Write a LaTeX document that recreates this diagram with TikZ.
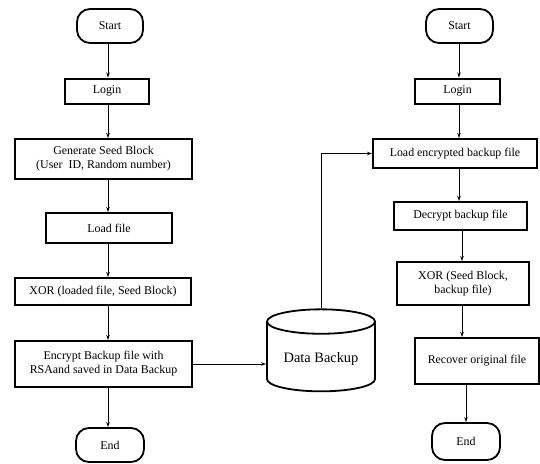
\documentclass[tikz,border=0pt]{standalone}
\usepackage{fontspec}
\setmainfont{Liberation Serif}
\newfontfamily\tms{Liberation Serif}
\usetikzlibrary{arrows.meta,shapes.geometric}
\begin{document}
\begin{tikzpicture}[x=1pt,y=-1pt,
  box/.style={draw,line width=2pt,inner sep=1pt,align=center,font=\tms\fontsize{11.9}{14}\selectfont},
  term/.style={box,rounded corners=13pt,line width=1.8pt},
  arr/.style={line width=0.8pt,-{Stealth[length=5pt,width=3.5pt]}},
  ln/.style={line width=0.8pt}]
\useasboundingbox (0,0) rectangle (540,463);
% left column
\node[term,minimum width=66pt,minimum height=34pt] (s1) at (110,26) {Start};
\node[box,minimum width=84pt,minimum height=25pt] (l1) at (107,91) {Login};
\node[box,minimum width=177pt,minimum height=40pt] (g1) at (103.5,159) {Generate Seed Block\\(User\ \ ID, Random number)};
\node[box,minimum width=126pt,minimum height=30pt] (f1) at (109,228) {Load file};
\node[box,minimum width=176pt,minimum height=27pt] (x1) at (103,291.5) {XOR (loaded file, Seed Block)};
\node[box,minimum width=177pt,minimum height=46pt] (e1) at (103.5,364) {Encrypt Backup file with\\RSAand saved in Data Backup};
\node[term,minimum width=68pt,minimum height=34pt] (n1) at (110,445) {End};
\coordinate (ax) at (108,0);
\draw[arr] (s1.south -| ax) -- (l1.north -| ax);
\draw[arr] (l1.south -| ax) -- (g1.north -| ax);
\draw[arr] (g1.south -| ax) -- (f1.north -| ax);
\draw[arr] (f1.south -| ax) -- (x1.north -| ax);
\draw[arr] (x1.south -| ax) -- (e1.north -| ax);
\draw[arr] (e1.south -| ax) -- (n1.north -| ax);
% cylinder
\node[cylinder,shape border rotate=90,draw,line width=1.8pt,minimum width=108pt,minimum height=82pt,aspect=0.3,font=\tms\fontsize{14.4}{16}\selectfont] (db) at (321,359) {Data Backup};
\draw[arr] (e1.east) -- (e1.east -| db.west);
% right column
\node[term,minimum width=67pt,minimum height=34pt] (s2) at (459.5,26) {Start};
\node[box,minimum width=85pt,minimum height=25pt] (l2) at (457.5,91) {Login};
\node[box,minimum width=164pt,minimum height=29pt] (le) at (455,153.5) {Load encrypted backup file};
\node[box,minimum width=133pt,minimum height=28pt] (d2) at (460.5,216) {Decrypt backup file};
\node[box,minimum width=132pt,minimum height=43pt] (x2) at (463,283.5) {XOR (Seed Block,\\backup file)};
\node[box,minimum width=124pt,minimum height=46pt] (r2) at (477,361) {Recover original file};
\node[term,minimum width=68pt,minimum height=37pt] (n2) at (466,441.5) {End};
\coordinate (bx) at (459,0);
\coordinate (cx) at (462,0);
\coordinate (dx) at (466,0);
\draw[arr] (s2.south -| bx) -- (l2.north -| bx);
\draw[arr] (l2.south -| bx) -- (le.north -| bx);
\draw[arr] (le.south -| bx) -- (d2.north -| bx);
\draw[arr] (d2.south -| cx) -- (x2.north -| cx);
\draw[arr] (x2.south -| cx) -- (r2.north -| cx);
\draw[arr] (r2.south -| dx) -- (n2.north -| dx);
\draw[arr] (db.top) |- (le.west);
\end{tikzpicture}
\end{document}
